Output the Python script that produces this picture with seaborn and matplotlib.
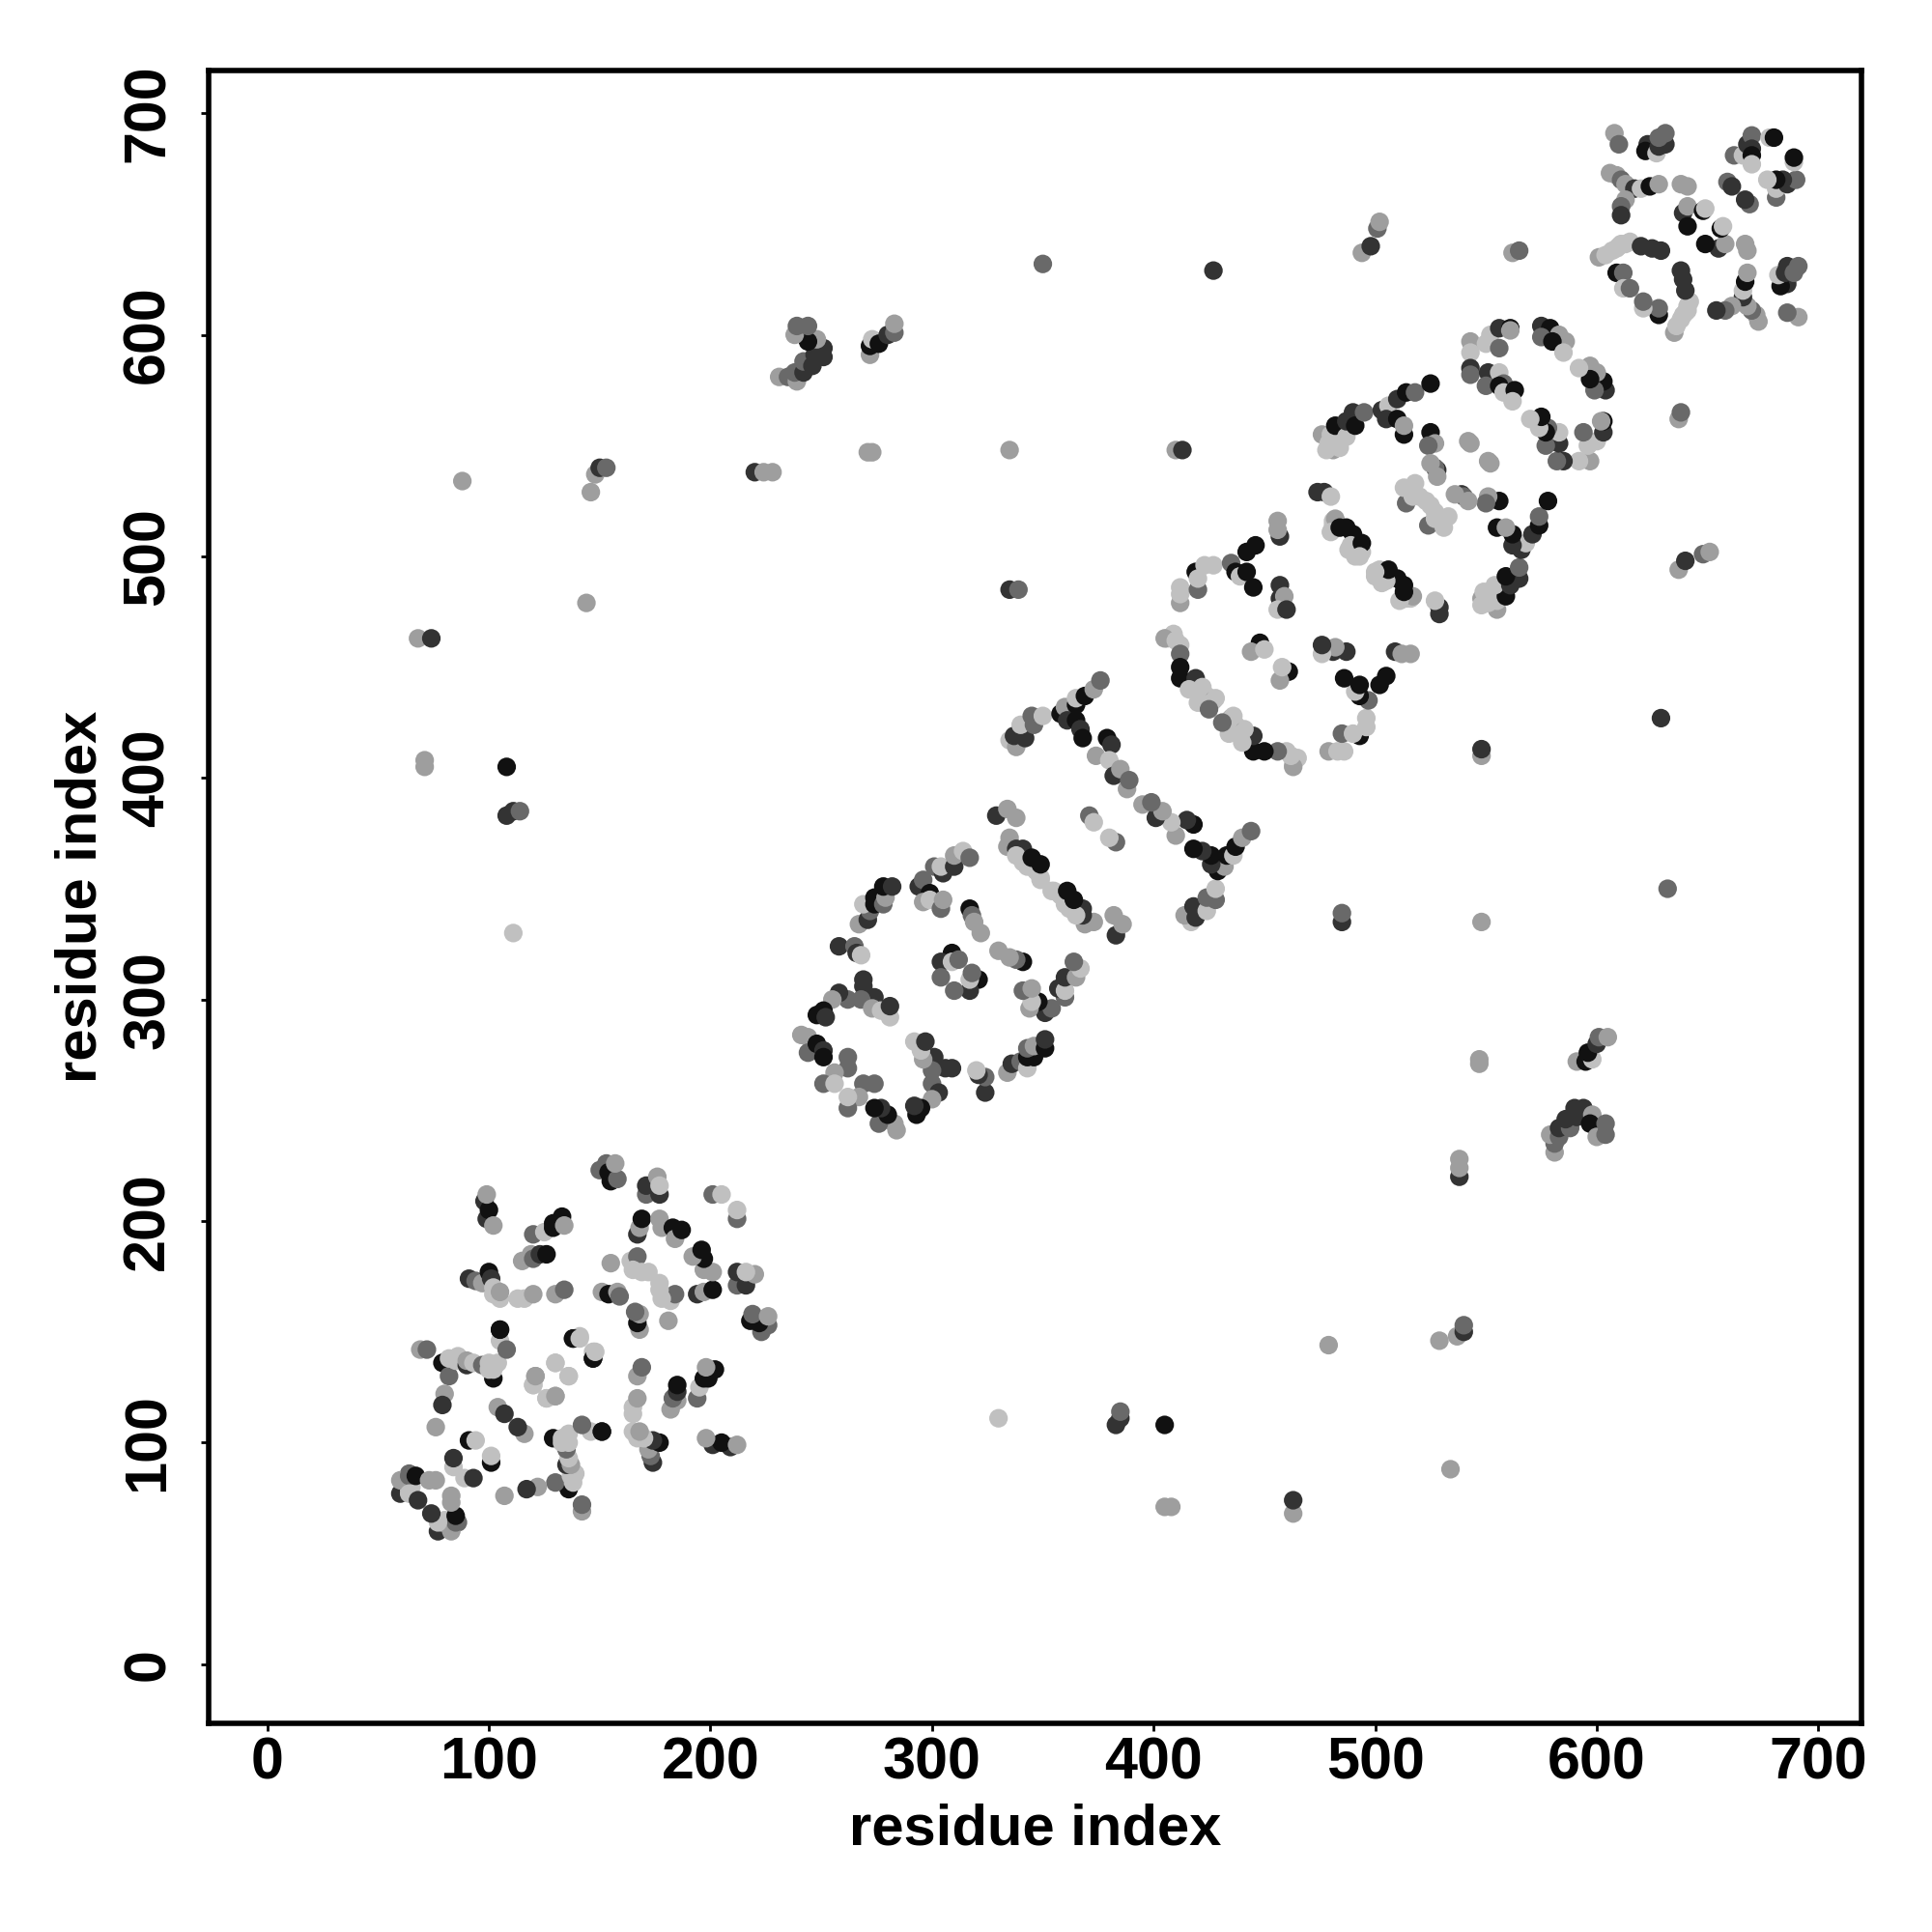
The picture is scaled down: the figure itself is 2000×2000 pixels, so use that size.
import matplotlib
matplotlib.use('Agg')
import matplotlib.pyplot as plt
import pandas as pd
import seaborn as sns

domain_n = [
    (63,78,4),(62,82,3),(64,86,2),(64,82,4),(65,80,4),(62,80,4),
    (98,209,1),(99,201,1),(100,205,0),(102,198,3),(99,212,3),
    (120,194,2),(125,195,4),(129,197,0),(133,202,0),(129,199,0),(134,198,3),
    (115,182,3),(119,185,3),(120,183,2),(123,185,1),(126,185,0),
    (91,174,1),(94,173,2),(97,172,3),(100,177,0),(101,174,1),(102,167,4),(104,167,4),(102,170,4),(105,165,4),(105,168,3),
    (113,165,4),(116,165,4),(120,167,3),(130,167,3),(134,169,2),
    (151,168,3),(154,167,0),(158,168,3),(159,166,2),
    (150,223,2),(153,226,2),(154,222,0),(155,218,0),(158,219,2),(157,226,3),
    (171,212,2),(171,216,1),(177,212,1),(176,220,3),(177,216,4),
    (201,212,2),(205,212,4),
    (167,194,1),(168,197,3),(169,201,0),(177,201,3),(178,197,3),(183,197,0),(184,192,3),(187,196,0),
    (155,181,3),(164,182,4),(167,184,2),(165,178,4),(169,177,4),(172,177,4),
    (69,142,3),(72,142,2),(79,136,0),(82,130,2),(80,122,3),(79,117,1),(82,138,4),(85,137,4),(86,139,4),
    (90,135,1),(90,137,3),(93,136,4),(97,135,2),(102,129,0),(100,133,4),(102,133,4),(100,136,4),(104,136,4),
    (105,146,4),(105,151,1),(105,151,0),(108,142,2),
    (138,147,0),(141,148,4),(147,138,0),(147,141,4),
    (130,136,4),(120,126,4),(121,130,3),(136,130,4),(126,120,4),(130,121,3),
    (104,116,3),(107,113,1),(76,107,3),
    (91,101,0),(94,101,4),(84,89,4),(84,93,1),
    (60,77,1),(64,79,4),(60,83,3),(64,85,2),(67,85,0),(64,77,4),(68,74,1),(73,83,3),(76,83,3),
]

band_low = [
    (267,334,3),(271,336,1),(272,340,2),(269,343,4),(274,343,0),(274,346,0),(278,343,2),(279,346,3),(278,351,0),(282,351,1),
    (258,324,1),(265,324,2),(266,321,1),(268,320,4),
    (269,309,1),(269,306,1),(274,301,1),(268,300,2),(262,300,2),(258,303,1),(255,300,3),(251,295,0),(248,293,0),(252,292,1),
    (273,296,3),(277,295,4),(281,292,4),(281,297,1),
    (241,284,3),(244,283,3),(244,276,2),(248,280,0),(251,277,1),(251,274,0),
    (262,274,2),(262,269,2),(256,267,3),(251,262,2),(256,262,4),
    (294,351,1),(296,354,2),(301,360,2),(299,348,0),(296,344,3),(299,345,4),(304,341,2),(305,345,3),
    (305,357,1),(304,360,4),(310,360,1),(310,365,3),(314,367,4),(317,364,2),
    (317,341,0),(318,338,2),(319,335,3),(322,330,3),
    (309,321,0),(304,317,1),(309,317,4),(312,318,2),(304,310,2),
    (335,373,3),(334,369,3),(338,368,1),(341,368,1),(338,365,4),(341,362,4),(343,360,4),(345,360,4),(347,358,4),(345,364,0),(349,354,4),(349,355,4),(349,361,0),
    (329,383,1),(334,386,3),(338,382,3),(371,383,2),(373,380,4),
    (335,417,4),(338,414,3),(337,419,1),(342,418,1),(340,424,4),(346,424,2),(345,428,2),(350,428,4),
    (358,429,0),(360,432,3),(361,426,1),(365,426,0),(367,422,1),(368,418,0),(365,433,0),(365,436,4),(369,437,0),(373,440,3),(376,444,2),
    (374,410,3),(379,418,0),(381,415,1),(380,408,4),(382,401,1),(385,404,3),(388,395,3),(389,399,2),
]

band_mid = [
    (406,463,4),(409,465,4),(405,463,3),(410,462,4),(412,460,4),(412,456,2),(412,450,0),(412,445,0),(419,445,1),
    (416,440,4),(421,438,4),(420,438,4),(422,441,4),(424,437,4),(427,435,3),(420,434,4),(426,434,4),(428,436,4),(425,431,2),
    (448,461,0),(444,457,3),(450,458,4),
    (412,486,4),(412,479,3),(412,483,4),(419,493,0),(420,485,2),(420,490,4),(423,496,4),(427,496,4),
    (435,497,2),(442,502,0),(446,505,0),(437,493,0),(439,491,4),(442,493,0),(445,486,0),
    (456,516,3),(457,509,1),(456,512,3),(457,487,1),(457,481,1),(459,482,3),(456,476,4),(460,476,1),
    (481,548,3),(478,548,4),(476,555,3),(479,551,4),(480,555,4),(484,549,4),(484,552,4),(482,559,0),(487,554,4),(487,561,1),(490,565,1),(491,559,0),(495,565,2),
    (503,566,1),(506,568,4),(505,562,1),(510,571,1),(510,562,0),(514,574,0),(518,574,2),(513,555,0),(513,559,3),(525,578,0),
    (525,556,0),(527,551,3),(524,550,2),(528,539,1),(527,540,2),(525,542,3),(528,536,3),
    (542,552,3),(543,551,3),(514,524,2),(516,530,4),(513,531,4),(518,533,4),(520,527,4),(523,525,4),(517,527,4),
    (477,529,1),(474,529,1),(480,527,4),
    (481,516,4),(481,514,4),(482,517,3),(480,511,4),(484,513,0),(487,513,0),(490,510,0),(488,503,4),(489,505,4),(491,500,4),(494,502,4),(494,506,0),(493,500,4),
    (543,597,3),(543,592,4),(543,585,1),(543,582,2),(550,596,4),(552,600,4),(556,594,2),(556,603,1),(561,603,0),(561,602,3),
    (551,583,1),(550,577,2),(556,583,4),(558,578,2),(556,577,0),(558,574,4),(563,575,0),(562,570,4),
    (575,604,1),(579,603,0),(575,599,2),(583,600,3),(586,597,3),(580,597,0),(585,592,4),
]

domain_c = [
    (608,691,3),(610,686,2),(623,686,1),(622,683,0),(627,682,4),(628,685,1),(631,686,1),(628,689,2),(631,691,2),
    (662,681,2),(666,681,4),(668,686,1),(670,690,2),(670,684,1),(670,681,0),(670,677,4),(678,689,4),(680,689,0),
    (659,669,2),(661,667,1),
    (606,673,3),(609,672,3),(611,670,2),(613,668,3),(617,666,1),(620,666,4),(624,667,0),(628,668,3),
    (613,661,3),(611,658,2),(611,654,1),
    (638,668,3),(641,667,3),(639,655,1),(641,658,3),(641,649,0),(648,656,0),(649,657,4),
    (601,635,3),(604,636,4),(607,638,4),(609,639,4),(610,640,4),(611,641,4),(613,641,4),(615,642,4),(620,640,1),(625,639,1),(629,638,1),
    (609,628,0),(612,628,2),(612,621,4),(615,621,2),
]

far_contacts = [
    (68,463,3),(74,463,1),(71,408,3),(71,405,3),(88,534,3),(108,405,0),
    (108,383,1),(111,385,1),(114,385,2),(111,330,4),
    (146,529,3),(148,537,3),(150,540,1),(153,540,2),(144,479,3),
    (220,538,1),(224,538,3),(228,538,3),
    (231,581,3),(235,581,2),(239,579,3),(238,583,2),(242,583,1),(242,588,2),(246,586,1),(247,591,1),(251,590,1),(251,594,1),
    (248,598,3),(244,597,0),(238,600,3),(239,604,2),(244,604,2),
    (272,591,3),(272,595,0),(273,598,4),(276,596,0),(280,600,1),(283,601,2),(283,605,3),
    (271,547,3),(273,547,3),(335,548,3),(335,485,1),(339,485,2),
    (350,632,2),(427,629,1),(410,548,3),(413,548,1),
    (494,637,3),(498,640,1),(501,648,2),(502,651,3),(562,637,3),(565,638,2),
]

shade_colors = {0: '#111111', 1: '#333333', 2: '#696969', 3: '#9e9e9e', 4: '#c0c0c0'}
tick_vals = [0, 100, 200, 300, 400, 500, 600, 700]

rows = domain_n + band_low + band_mid + domain_c + far_contacts
df = pd.DataFrame(rows, columns=['i', 'j', 'shade'])
mirror = df.rename(columns={'i': 'j', 'j': 'i'})
contacts = pd.concat([df, mirror], ignore_index=True)

sns.set_theme(style='white')
plt.rcParams['font.family'] = ['Liberation Sans', 'DejaVu Sans']
plt.rcParams['font.weight'] = 'bold'

fig = plt.figure(figsize=(10, 10), dpi=200)
ax = fig.add_axes([0.108, 0.108, 0.8555, 0.8555])
sns.scatterplot(data=contacts, x='i', y='j', hue='shade', palette=shade_colors,
                s=48, linewidth=0, legend=False, ax=ax)

ax.set_xlim(-26.5, 719.5)
ax.set_ylim(-26.7, 719.3)
ax.set_xticks(tick_vals)
ax.set_yticks(tick_vals)
ax.tick_params(axis='both', length=3, width=1, color='black', labelsize=22, labelcolor='black', bottom=True, left=True)
ax.tick_params(axis='x', pad=2)
ax.tick_params(axis='y', pad=9)
for lab in ax.get_yticklabels():
    lab.set_rotation(90)
    lab.set_va('center')
for side in ax.spines.values():
    side.set_linewidth(2)
    side.set_color('black')
ax.set_xlabel('residue index', fontsize=21.5, fontweight='bold', color='black', labelpad=4)
ax.set_ylabel('residue index', fontsize=21.5, fontweight='bold', color='black', labelpad=5)

fig.savefig('out.png', dpi=200, facecolor='white')
